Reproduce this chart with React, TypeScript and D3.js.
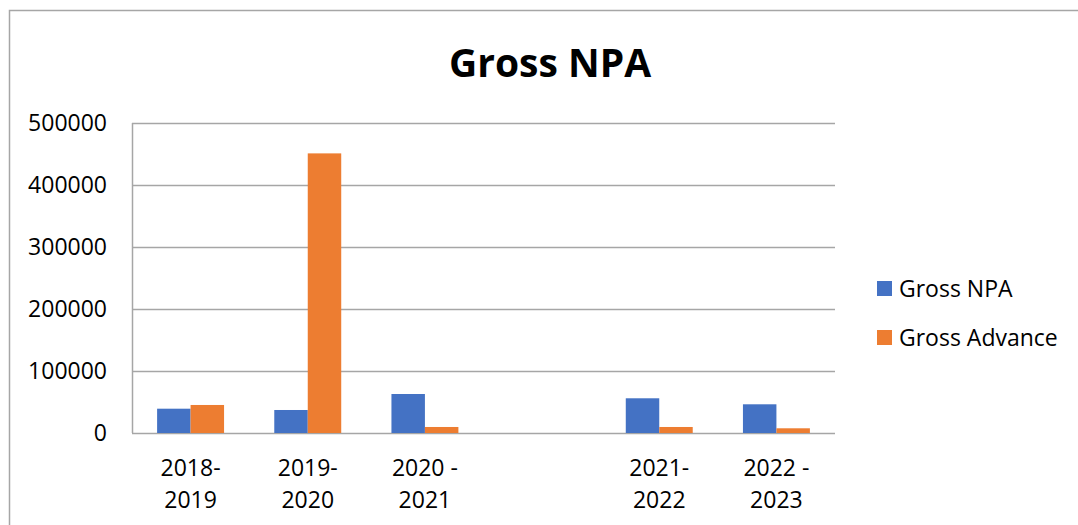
import React from "react";
import * as d3 from "d3";

const categories = ["2018-2019", "2019-2020", "2020-2021", "", "2021-2022", "2022-2023"];
const labelLines = [["2018-", "2019"], ["2019-", "2020"], ["2020 -", "2021"], [], ["2021-", "2022"], ["2022 -", "2023"]];
const grossNPA = [39200, 37100, 62900, null, 56000, 46300];
const grossAdvance = [45200, 451000, 9700, null, 9700, 7600];
const seriesNames = ["Gross NPA", "Gross Advance"];
const seriesColors = ["#4472C4", "#ED7D31"];
const yTicks = [0, 100000, 200000, 300000, 400000, 500000];

const W = 1078, H = 525;
const plot = { left: 132, right: 835, top: 123, bottom: 433 };
const FONT = "'Open Sans', sans-serif";

export default function App() {
  const keys = categories.map((c, i) => c || `blank${i}`);
  const x = d3.scaleBand<string>().domain(keys).range([plot.left, plot.right]).paddingInner(0).paddingOuter(0);
  const y = d3.scaleLinear().domain([0, 500000]).range([plot.bottom, plot.top]);
  const bw = x.bandwidth();
  const barW = bw / 3.5;
  const series = [grossNPA, grossAdvance];

  return (
    <svg width={W} height={H} style={{ position: "absolute", left: 0, top: 0, background: "#fff" }}>
      <rect x={9.5} y={10.5} width={W + 20} height={H + 20} fill="#fff" stroke="#a6a6a6" strokeWidth={1.5} />
      <text x={550} y={77} textAnchor="middle" fontFamily={FONT} fontWeight="bold" fontSize={39} fill="#000">Gross NPA</text>
      {yTicks.map((t) => (
        <g key={t}>
          <line x1={plot.left} x2={plot.right} y1={Math.round(y(t)) + 0.5} y2={Math.round(y(t)) + 0.5} stroke="#a6a6a6" strokeWidth={1.5} />
          <text x={107} y={y(t)} dy="0.35em" textAnchor="end" fontFamily={FONT} fontSize={23} fill="#000">{t}</text>
        </g>
      ))}
      <line x1={plot.left + 0.5} x2={plot.left + 0.5} y1={plot.top} y2={plot.bottom} stroke="#a6a6a6" strokeWidth={1.5} />
      {series.map((vals, si) =>
        vals.map((v, i) =>
          v == null ? null : (
            <rect key={`${si}-${i}`} x={(x(keys[i]) as number) + (bw - 2 * barW) / 2 + si * barW} y={y(v)} width={barW} height={y(0) - y(v)} fill={seriesColors[si]} />
          )
        )
      )}
      {labelLines.map((lines, i) =>
        lines.map((ln, li) => (
          <text key={`${i}-${li}`} x={(x(keys[i]) as number) + bw / 2} y={476 + li * 32} textAnchor="middle" fontFamily={FONT} fontSize={23} fill="#000">{ln}</text>
        ))
      )}
      {seriesNames.map((n, i) => (
        <g key={n}>
          <rect x={877} y={281 + i * 49} width={15} height={15} fill={seriesColors[i]} />
          <text x={899} y={288.5 + i * 49} dy="0.35em" fontFamily={FONT} fontSize={23} fill="#000">{n}</text>
        </g>
      ))}
    </svg>
  );
}
